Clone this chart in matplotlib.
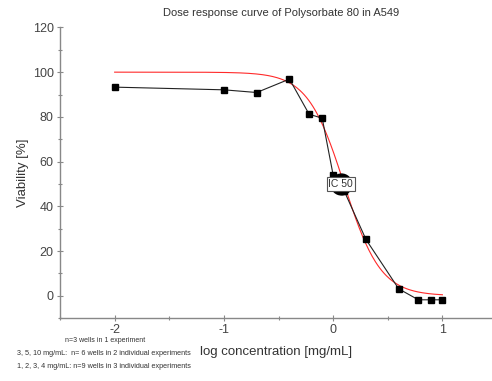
import numpy as np
import matplotlib
matplotlib.use("Agg")
import matplotlib.pyplot as plt
from matplotlib.ticker import MultipleLocator

# measured viability (mean) vs log concentration
log_conc = [-2.0, -1.0, -0.7, -0.4, -0.22, -0.1, 0.0, 0.1, 0.3, 0.6, 0.78, 0.9, 1.0]
viability = [93.3, 92.1, 90.9, 96.9, 81.2, 79.4, 54.0, 47.0, 25.2, 3.1, -1.8, -1.8, -1.8]

# four-parameter logistic fit
fit_top = 100.0
fit_bottom = 0.0
fit_logic50 = 0.1
fit_hill = 2.6
fit_range = (-2.0, 1.0)

ic50_point = (0.07, 50.0)

notes = [
    "n=3 wells in 1 experiment",
    "3, 5, 10 mg/mL:  n= 6 wells in 2 individual experiments",
    "1, 2, 3, 4 mg/mL: n=9 wells in 3 individual experiments",
]

plt.rcParams['font.family'] = ['Liberation Sans', 'DejaVu Sans']
plt.rcParams['axes.unicode_minus'] = False

fig = plt.figure(figsize=(4.92, 3.81), dpi=100)
ax = fig.add_axes([0.122, 0.165, 0.878, 0.763])

xf = np.linspace(fit_range[0], fit_range[1], 300)
yf = fit_bottom + (fit_top - fit_bottom) / (1 + 10 ** ((xf - fit_logic50) * fit_hill))
ax.plot(xf, yf, color='#ff2a2a', lw=0.8, zorder=2)

ax.plot(log_conc, viability, color='#222222', lw=0.8, marker='s', ms=5,
        mfc='black', mec='black', zorder=3)

# IC 50 marker and label
ax.plot(*ic50_point, marker='o', ms=15, color='black', zorder=4)
ax.text(ic50_point[0], ic50_point[1], "IC 50", fontsize=7.5, color='#333333',
        ha='center', va='center', zorder=5,
        bbox=dict(boxstyle='square,pad=0.15', fc='white', ec='#555555', lw=0.8))

ax.set_xlim(-2.5, 1.454)
ax.set_ylim(-10, 120)

for s in ['top', 'right']:
    ax.spines[s].set_visible(False)
for s in ['left', 'bottom']:
    ax.spines[s].set_color('#888888')
    ax.spines[s].set_linewidth(1.0)

ax.xaxis.set_major_locator(MultipleLocator(1))
ax.xaxis.set_minor_locator(MultipleLocator(0.5))
ax.yaxis.set_major_locator(MultipleLocator(20))
ax.yaxis.set_minor_locator(MultipleLocator(10))
ax.tick_params(which='major', direction='inout', length=5, width=0.8,
               color='#888888', labelsize=9, labelcolor='#444444', pad=2)
ax.tick_params(which='minor', direction='inout', length=3, width=0.8, color='#888888')

ax.set_xlabel("log concentration [mg/mL]", fontsize=9.5, color='#333333', labelpad=7)
ax.set_ylabel("Viability [%]", fontsize=9.5, color='#333333', labelpad=3)

fig.text(0.571, 0.965, "Dose response curve of Polysorbate 80 in A549",
         fontsize=8, color='#333333', ha='center', va='center')

fig.text(0.132, 0.107, notes[0], fontsize=5, color='#333333', va='center')
fig.text(0.034, 0.072, notes[1], fontsize=5.2, color='#333333', va='center')
fig.text(0.034, 0.037, notes[2], fontsize=5.2, color='#333333', va='center')

fig.savefig("out.png", dpi=100)
